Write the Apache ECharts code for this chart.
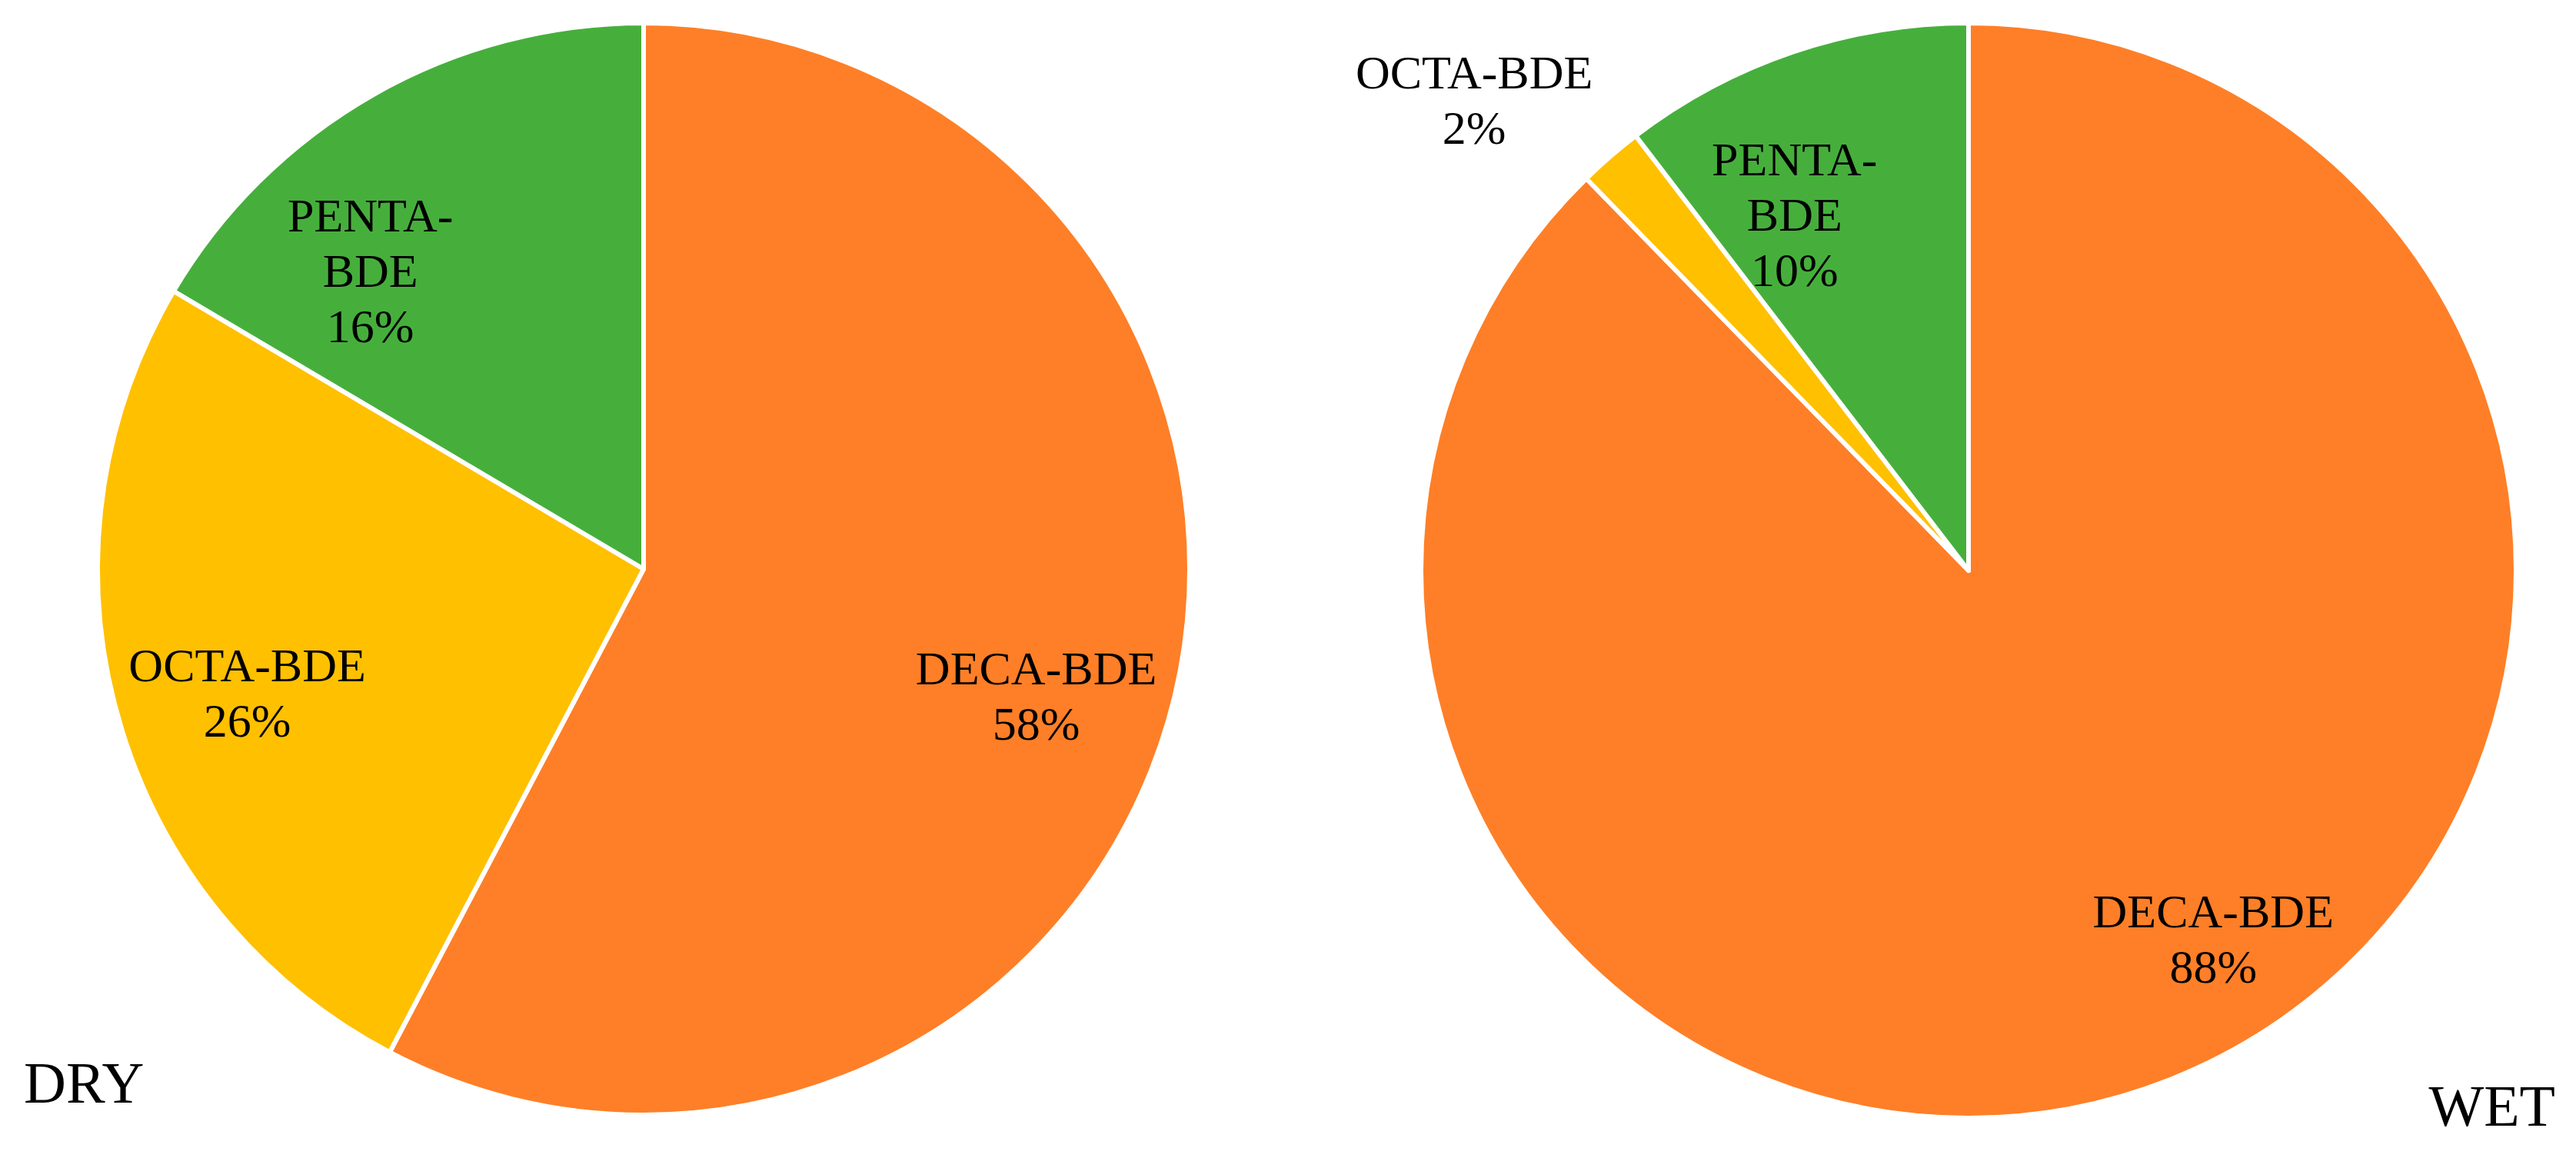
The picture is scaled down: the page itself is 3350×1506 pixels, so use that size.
<!DOCTYPE html>
<html>
<head>
<meta charset="utf-8">
<script src="https://cdn.jsdelivr.net/npm/echarts@6/dist/echarts.min.js"></script>
<style>
  html, body { margin: 0; padding: 0; background: #ffffff; }
  #chart { width: 3350px; height: 1506px; }
</style>
</head>
<body>
<div id="chart"></div>
<script>
// ---- data ----
var categories = ['DECA-BDE', 'OCTA-BDE', 'PENTA-BDE'];
var labelNames = ['DECA-BDE', 'OCTA-BDE', 'PENTA-\nBDE'];
var dryValues = [57.7, 25.8, 16.5];
var wetValues = [87.7, 1.9, 10.4];
var panelTitles = ['DRY', 'WET'];

// ---- styles ----
var colors = ['#FE7F27', '#FFC000', '#46AF3C'];
var dryLabelOffsets = [[163, 84], [-171, 68], [-178, -72]];
var wetLabelOffsets = [[183, 151], [-408, -336], [-111, -118]];
var FONT = '"Liberation Serif", "Times New Roman", serif';

function buildData(values) {
  return categories.map(function (c, i) {
    return { name: c, value: values[i], itemStyle: { color: colors[i] } };
  });
}

function makeSeries(values, center, radius, offsets) {
  return {
    type: 'pie',
    center: center,
    radius: radius,
    startAngle: 90,
    clockwise: true,
    percentPrecision: 0,
    avoidLabelOverlap: false,
    data: buildData(values),
    itemStyle: { borderColor: '#ffffff', borderWidth: 6 },
    label: {
      show: true,
      position: 'inside',
      color: '#000000',
      fontFamily: FONT,
      fontSize: 62,
      lineHeight: 72,
      align: 'center',
      formatter: function (p) {
        return labelNames[p.dataIndex] + '\n' + p.percent + '%';
      }
    },
    labelLine: { show: false },
    labelLayout: function (p) {
      var o = offsets[p.dataIndex];
      return { dx: o[0], dy: o[1] };
    },
    emphasis: { disabled: true }
  };
}

var chart = echarts.init(document.getElementById('chart'), null, { renderer: 'canvas' });
chart.setOption({
  animation: false,
  backgroundColor: '#ffffff',
  title: [
    { text: panelTitles[0], left: 26, top: 1371,
      textStyle: { fontFamily: FONT, fontSize: 76, lineHeight: 76, fontWeight: 'normal', color: '#000000' } },
    { text: panelTitles[1], right: 22, top: 1401,
      textStyle: { fontFamily: FONT, fontSize: 76, lineHeight: 76, fontWeight: 'normal', color: '#000000' } }
  ],
  series: [
    makeSeries(dryValues, [837, 740], 710, dryLabelOffsets),
    makeSeries(wetValues, [2560, 742], 712, wetLabelOffsets)
  ]
});
</script>
</body>
</html>
